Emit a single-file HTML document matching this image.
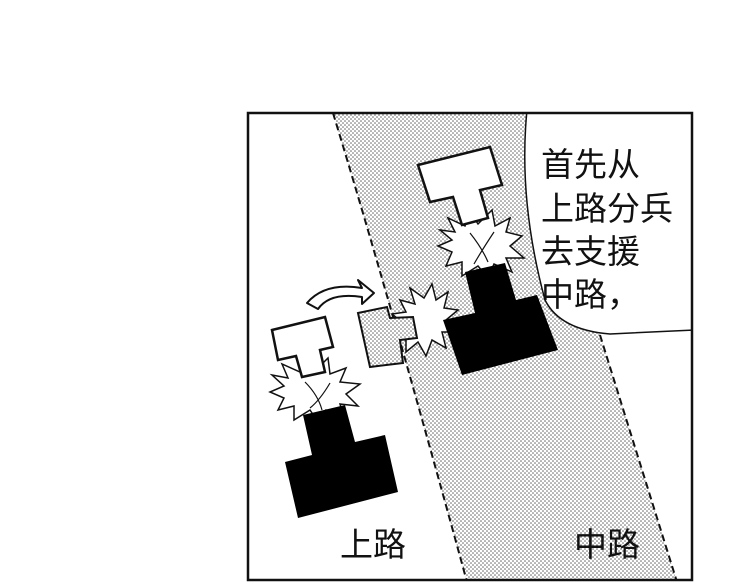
<!DOCTYPE html>
<html><head><meta charset="utf-8"><style>
html,body{margin:0;padding:0;background:#fff;width:750px;height:586px;overflow:hidden}
svg{display:block}
text{font-family:"Liberation Sans","Noto Sans CJK SC",sans-serif;fill:#111}
</style></head><body>
<svg width="750" height="586" viewBox="0 0 750 586" xmlns="http://www.w3.org/2000/svg">
<defs>
<pattern id="dots" width="4" height="4" patternUnits="userSpaceOnUse">
<rect width="4" height="4" fill="#fff"/>
<circle cx="1" cy="1" r="0.8" fill="#666"/><circle cx="3" cy="3" r="0.8" fill="#666"/>
</pattern>
<clipPath id="pc"><rect x="248" y="113" width="444" height="467"/></clipPath>
</defs>
<rect x="0" y="0" width="750" height="586" fill="#fff"/>
<g clip-path="url(#pc)">
<path d="M333,113 Q390,300 467,582 L677,582 L600,335 L527,113 Z" fill="url(#dots)"/>
<path d="M333,113 Q390,300 467,582" fill="none" stroke="#111" stroke-width="2" stroke-dasharray="7,4"/>
<path d="M600,335 L677,582" fill="none" stroke="#111" stroke-width="2" stroke-dasharray="7,4"/>
<path d="M527,110 Q518,200 545,300 Q560,330 610,334 L694,330 L694,110 Z" fill="#fff" stroke="#111" stroke-width="1.5"/>
<polygon points="440,230 455,232 448,218 465,226 470,212 478,224 492,210 495,226 510,218 506,232 522,236 510,246 524,258 506,258 512,272 494,264 488,278 478,266 462,276 462,262 446,266 452,252 438,246 452,240" fill="#fff" stroke="#111" stroke-width="1.5"/>
<polygon points="400,300 415,304 410,288 424,298 432,284 436,300 448,292 444,308 458,310 446,320 456,332 442,332 446,348 432,340 426,356 418,342 406,352 406,336 394,334 404,324 392,314 406,312" fill="#fff" stroke="#111" stroke-width="1.5"/>
<polygon points="272,375 288,378 282,364 300,372 306,360 314,372 328,358 330,374 346,368 340,382 360,384 346,394 358,406 340,404 344,418 326,410 318,422 310,410 294,420 294,406 278,410 284,398 270,392 284,386" fill="#fff" stroke="#111" stroke-width="1.5"/>
<path d="M305,382 Q318,395 322,410 M330,383 Q320,400 310,408" fill="none" stroke="#111" stroke-width="1.2"/>
<path d="M470,233 Q482,248 488,262 M494,232 Q482,250 474,264" fill="none" stroke="#111" stroke-width="1.2"/>
<polygon points="418,165 490,147 502,185 480,190 488,218 462,225 453,197 430,202" fill="#fff" stroke="#111" stroke-width="2.5"/>
<polygon points="465,272 505,263 516,300 537,295 558,350 462,375 443,320 475,313" fill="#000"/>
<polygon points="272,330 325,317 333,347 320,350 325,372 302,377 296,356 278,360" fill="#fff" stroke="#111" stroke-width="2.5"/>
<polygon points="303,415 345,405 355,442 385,435 398,492 298,518 285,462 312,455" fill="#000"/>
<polygon points="358,313 387,307 390,318 413,317 417,338 400,340 403,363 370,367" fill="url(#dots)" stroke="#111" stroke-width="2"/>
<path d="M307,303 Q325,282 362,288 L358,280 L374,293 L362,304 L362,297 Q330,292 318,309 Z" fill="#fff" stroke="#111" stroke-width="2" stroke-linejoin="round"/>
</g>
<rect x="248" y="113" width="444" height="467" fill="none" stroke="#111" stroke-width="2.5"/>
<g font-size="33">
<text x="541" y="176">首先从</text>
<text x="541" y="220">上路分兵</text>
<text x="541" y="263">去支援</text>
<text x="541" y="306">中路，</text>
<text x="340" y="556">上路</text>
<text x="574" y="556">中路</text>
</g>
</svg>
</body></html>
